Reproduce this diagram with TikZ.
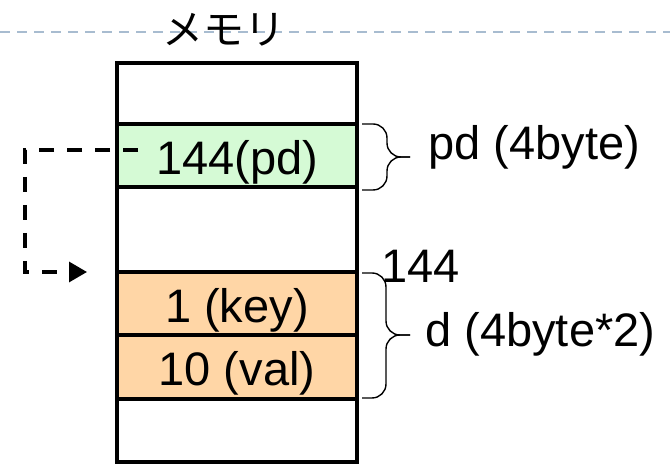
\documentclass[tikz,border=0pt]{standalone}
\usepackage{fontspec}
\setmainfont{Liberation Sans}
\newfontfamily\jpfont{Noto Sans CJK JP}
\usetikzlibrary{positioning}
\usetikzlibrary{arrows.meta}
\definecolor{ptrColor}{RGB}{213,250,213}
\definecolor{dataColor}{RGB}{255,214,166}
\definecolor{guideColor}{RGB}{168,188,208}

\begin{document}
\begin{tikzpicture}[x=0.5pt,y=-0.5pt]

            \tikzstyle{cell} = [draw, line width=1.7pt, minimum width=120pt, inner sep=0pt, outer sep=0pt, text height=21pt, text depth=2pt, font=\fontsize{23.5}{28}\selectfont];
            \tikzstyle{ptrCell} = [cell, fill=ptrColor];
            \tikzstyle{dataCell} = [cell, fill=dataColor];
            \tikzstyle{sizeLabel} = [inner sep=0pt, anchor=base west, font=\fontsize{23.5}{28}\selectfont];
            \tikzstyle{byteBrace} = [line width=0.7pt, rounded corners=7pt];
            \tikzstyle{pointerEdge} = [line width=1.6pt, dash pattern=on 7.5pt off 6.5pt, -{Triangle[length=9pt,width=10pt]}];

            \useasboundingbox (0,0) rectangle (670,464);

            \draw[guideColor, line width=1pt, dash pattern=on 5pt off 3.5pt] (0,32) -- (670,32);
            \node[inner sep=0pt, font=\jpfont\fontsize{20.5}{24}\selectfont] (memTitle) at (224,30) {メモリ};

            \node[cell, minimum height=30.5pt] (top) at (237,93.5) {};
            \node[ptrCell, minimum height=31.5pt] (pd) at (237,155.5) {144(pd)};
            \node[cell, minimum height=42.5pt] (gap) at (237,229.5) {};
            \node[dataCell, minimum height=31.5pt] (key) at (237,303.5) {1 (key)};
            \node[dataCell, minimum height=32pt] (val) at (237,367) {10 (val)};
            \node[cell, minimum height=31.5pt] (bottom) at (237,430.5) {};

            \coordinate (ptrStart) at (138,150);
            \coordinate (ptrEnd) at (87,272);
            \draw[pointerEdge] (ptrStart) -| (25,272) -- (ptrEnd);

            \draw[byteBrace] (362,124) -| (387,157) -- (410,157);
            \draw[byteBrace] (362,190) -| (387,157) -- (410,157);
            \node[sizeLabel] (pdSize) at (428,160) {pd (4byte)};

            \draw[byteBrace] (362,273) -| (386,335) -- (410,335);
            \draw[byteBrace] (362,398) -| (386,335) -- (410,335);
            \node[sizeLabel] (addr) at (381,283) {144};
            \node[sizeLabel] (dSize) at (425,347) {d (4byte*2)};
          \end{tikzpicture}
\end{document}
